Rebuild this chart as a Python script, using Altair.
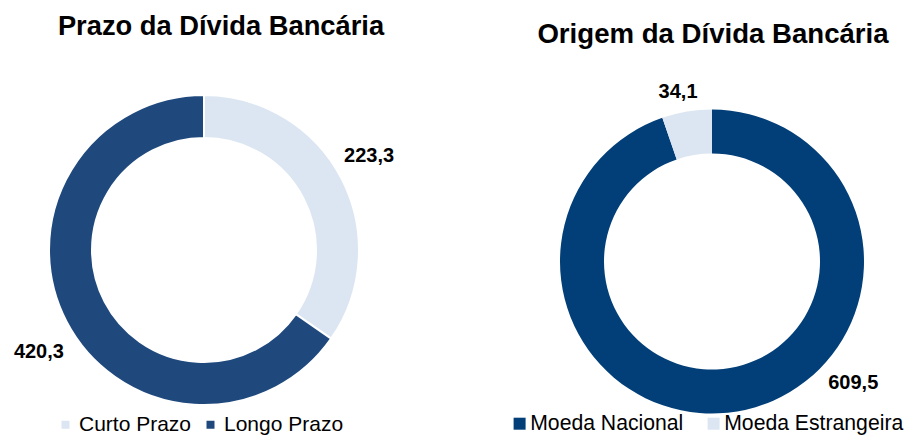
import altair as alt
import pandas as pd

# ---- data ----
prazo_cat = ["Curto Prazo", "Longo Prazo"]
prazo_val = [223.3, 420.3]
origem_cat = ["Moeda Nacional", "Moeda Estrangeira"]
origem_val = [609.5, 34.1]
titles = ["Prazo da Dívida Bancária", "Origem da Dívida Bancária"]

prazo_df = pd.DataFrame({"cat": prazo_cat, "valor": prazo_val, "ordem": list(range(len(prazo_cat)))})
origem_df = pd.DataFrame({"cat": origem_cat, "valor": origem_val, "ordem": list(range(len(origem_cat)))})

FONT = "Liberation Sans"
LX, LY = 196, 242
RX, RY = 704, 253.5
lbl_expr = "replace(format(datum.valor, '.1f'), '.', ',')"

# ---- left donut ----
left_base = alt.Chart(prazo_df).encode(
    theta=alt.Theta("valor:Q", stack=True),
    order=alt.Order("ordem:Q"),
    x=alt.value(LX),
    y=alt.value(LY),
)
left_arc = left_base.mark_arc(outerRadius=155, innerRadius=112, stroke="white", strokeWidth=2).encode(
    color=alt.Color(
        "cat:N",
        scale=alt.Scale(domain=prazo_cat, range=["#dce6f2", "#1f497d"]),
        sort=prazo_cat,
        title=None,
        legend=alt.Legend(
            orient="none", legendX=47, legendY=406, direction="horizontal",
            symbolType="square", symbolSize=64, symbolStrokeWidth=0,
            labelFont=FONT, labelFontSize=21, labelColor="black",
            columnPadding=8, labelOffset=3, padding=0, labelLimit=400,
        ),
    )
)
left_text = left_base.mark_text(font=FONT, fontSize=20, fontWeight="bold", color="black",
                                thetaOffset=-0.055, dy=4).encode(
    radius=alt.value(192),
    text=alt.Text("lbl:N"),
    detail=alt.Detail("cat:N"),
).transform_calculate(lbl=lbl_expr)

# ---- right donut ----
right_base = alt.Chart(origem_df).encode(
    theta=alt.Theta("valor:Q", stack=True),
    order=alt.Order("ordem:Q"),
    x=alt.value(RX),
    y=alt.value(RY),
)
right_arc = right_base.mark_arc(outerRadius=152, innerRadius=108).encode(
    color=alt.Color(
        "cat:N",
        scale=alt.Scale(domain=origem_cat, range=["#023f78", "#dce6f2"]),
        sort=origem_cat,
        title=None,
        legend=alt.Legend(
            orient="none", legendX=501, legendY=405, direction="horizontal",
            symbolType="square", symbolSize=144, symbolStrokeWidth=0,
            labelFont=FONT, labelFontSize=21.2, labelColor="black",
            columnPadding=19, labelOffset=0, padding=0, labelLimit=400,
        ),
    )
)
right_text_est = right_base.mark_text(font=FONT, fontSize=20, fontWeight="bold", color="black",
                                      thetaOffset=-0.031).encode(
    radius=alt.value(173),
    text=alt.Text("lbl:N"),
    detail=alt.Detail("cat:N"),
).transform_calculate(lbl=f"datum.cat == '{origem_cat[1]}' ? {lbl_expr} : ''")
right_text_nac = right_base.mark_text(font=FONT, fontSize=20, fontWeight="bold", color="black",
                                      thetaOffset=-0.696).encode(
    radius=alt.value(186),
    text=alt.Text("lbl:N"),
    detail=alt.Detail("cat:N"),
).transform_calculate(lbl=f"datum.cat == '{origem_cat[0]}' ? {lbl_expr} : ''")

# ---- titles ----
title_left = alt.Chart(pd.DataFrame({"t": [titles[0]]})).mark_text(
    font=FONT, fontSize=27.3, fontWeight="bold", color="black", baseline="alphabetic", align="center"
).encode(text="t:N", x=alt.value(213), y=alt.value(27))
title_right = alt.Chart(pd.DataFrame({"t": [titles[1]]})).mark_text(
    font=FONT, fontSize=27.6, fontWeight="bold", color="black", baseline="alphabetic", align="center"
).encode(text="t:N", x=alt.value(705), y=alt.value(35))

chart = alt.layer(
    left_arc, left_text, right_arc, right_text_est, right_text_nac, title_left, title_right
).resolve_scale(
    color="independent", theta="independent"
).properties(
    width=901, height=427, padding=0,
    autosize=alt.AutoSizeParams(type="none"),
    background="white",
).configure_view(strokeWidth=0)

chart.save("out.html", embed_options={"renderer": "svg", "actions": False})
